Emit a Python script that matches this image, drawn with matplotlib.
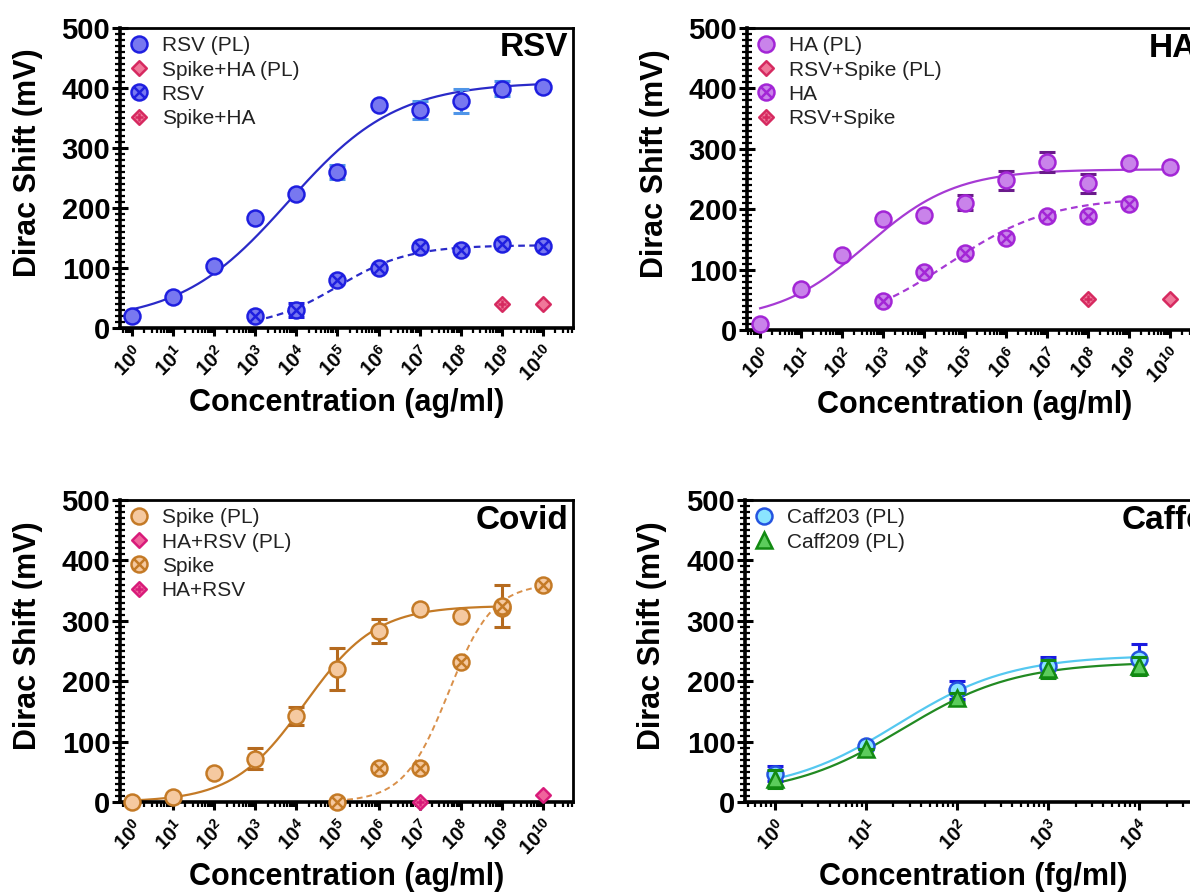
import numpy as np
import matplotlib
matplotlib.use('Agg')
import matplotlib.pyplot as plt
from matplotlib.path import Path
from matplotlib.ticker import FixedLocator, LogLocator, MultipleLocator, NullFormatter

plt.rcParams['font.family'] = ['Liberation Sans', 'DejaVu Sans']
plt.rcParams['mathtext.fontset'] = 'custom'
plt.rcParams['mathtext.rm'] = 'Liberation Sans'
plt.rcParams['mathtext.bf'] = 'Liberation Sans:bold'
plt.rcParams['mathtext.it'] = 'Liberation Sans:italic'

# ---------------- data (x given as log10 of concentration) ----------------
# RSV panel
rsv_pl_logc = [0, 1, 2, 3, 4, 5, 6, 7, 8, 9, 10]
rsv_pl_val = [20, 52, 103, 183, 223, 260, 372, 363, 378, 399, 402]
rsv_pl_err = [0, 0, 0, 0, 0, 12, 0, 15, 20, 12, 0]
rsv_logc = [3, 4, 5, 6, 7, 8, 9, 10]
rsv_val = [20, 30, 80, 100, 135, 130, 140, 137]
rsv_err = [0, 12, 0, 0, 0, 0, 0, 0]
spikeha_pl_logc = [10]
spikeha_pl_val = [40]
spikeha_logc = [9]
spikeha_val = [40]
rsv_pl_fit = [10, 410, 3.8, 0.33]      # bottom, top, logEC50, hill
rsv_fit = [0, 138, 5.0, 0.5]

# HA panel
ha_pl_logc = [0, 1, 2, 3, 4, 5, 6, 7, 8, 9, 10]
ha_pl_val = [10, 68, 125, 183, 190, 211, 248, 278, 243, 277, 270]
ha_pl_err = [0, 0, 0, 0, 0, 12, 16, 17, 16, 0, 0]
ha_logc = [3, 4, 5, 6, 7, 8, 9]
ha_val = [48, 96, 128, 153, 188, 188, 208]
rsvspike_pl_logc = [10]
rsvspike_pl_val = [52]
rsvspike_logc = [8]
rsvspike_val = [52]
ha_pl_fit = [15, 266, 2.6, 0.4]
ha_fit = [0, 220, 4.6, 0.35]

# Covid panel
spike_pl_logc = [0, 1, 2, 3, 4, 5, 6, 7, 8, 9]
spike_pl_val = [0, 8, 48, 72, 143, 220, 283, 320, 308, 322]
spike_pl_err = [0, 0, 0, 18, 15, 35, 20, 0, 0, 0]
spike_logc = [5, 6, 7, 8, 9, 10]
spike_val = [0, 57, 57, 232, 325, 360]
spike_err = [0, 0, 0, 0, 35, 0]
harsv_pl_logc = [10]
harsv_pl_val = [12]
harsv_logc = [7]
harsv_val = [0]
spike_pl_fit = [0, 325, 4.2, 0.5]
spike_fit = [0, 362, 7.7, 0.8]

# Caffeine panel (fg/ml)
caff_logc = [0, 1, 2, 3, 4]
caff203_val = [47, 93, 185, 225, 237]
caff203_err = [12, 0, 15, 15, 25]
caff209_val = [38, 87, 173, 220, 225]
caff209_err = [15, 0, 8, 15, 15]
caff203_fit = [15, 243, 1.35, 0.7]
caff209_fit = [10, 232, 1.4, 0.7]


# ---------------- helpers ----------------
def fourpl(logx, p):
    b, t, ec, h = p
    return b + (t - b) / (1.0 + 10.0 ** ((ec - logx) * h))


def crossed_circle():
    d = 0.68
    lines = Path([(-d, -d), (d, d), (-d, d), (d, -d)],
                 [Path.MOVETO, Path.LINETO, Path.MOVETO, Path.LINETO])
    return Path.make_compound_path(Path.unit_circle(), lines)


DIAMOND = Path([(0, 1), (1, 0), (0, -1), (-1, 0), (0, 1)],
               [Path.MOVETO, Path.LINETO, Path.LINETO, Path.LINETO, Path.CLOSEPOLY])


def crossed_diamond():
    d = 0.55
    lines = Path([(-d, 0), (d, 0), (0, -d), (0, d)],
                 [Path.MOVETO, Path.LINETO, Path.MOVETO, Path.LINETO])
    return Path.make_compound_path(DIAMOND, lines)


XCIRC = crossed_circle()
XDIAM = crossed_diamond()

FIG_W, FIG_H = 1190, 893
fig = plt.figure(figsize=(11.9, 8.93), dpi=100)


def px_axes(left, top, right, bottom):
    return fig.add_axes([left / FIG_W, 1 - bottom / FIG_H,
                         (right - left) / FIG_W, (bottom - top) / FIG_H])


def style(ax, xlim_log, decades, xlabel, title, title_x, title_ha='right'):
    ax.set_xscale('log')
    ax.set_xlim(10.0 ** xlim_log[0], 10.0 ** xlim_log[1])
    ax.set_ylim(0, 500)
    ax.yaxis.set_major_locator(MultipleLocator(100))
    ax.yaxis.set_minor_locator(MultipleLocator(10))
    ax.xaxis.set_major_locator(FixedLocator([10.0 ** k for k in decades]))
    ax.xaxis.set_minor_locator(LogLocator(base=10, subs=np.arange(2, 10), numticks=100))
    ax.xaxis.set_minor_formatter(NullFormatter())
    ax.set_xticklabels([r'$\mathbf{10^{%d}}$' % k for k in decades],
                       rotation=45, ha='right', rotation_mode='anchor', fontsize=14.5)
    for lab in ax.get_yticklabels():
        lab.set_fontweight('bold')
        lab.set_fontsize(21)
    ax.tick_params(axis='y', which='major', direction='inout', length=12, width=2.2, pad=1)
    ax.tick_params(axis='y', which='minor', direction='inout', length=7, width=1.6)
    ax.tick_params(axis='x', which='major', direction='out', length=6, width=2.2, pad=4)
    ax.tick_params(axis='x', which='minor', direction='out', length=3.5, width=1.6)
    for s in ax.spines.values():
        s.set_linewidth(2.0)
    ax.spines['left'].set_linewidth(2.6)
    ax.spines['bottom'].set_linewidth(2.6)
    ax.set_ylabel('Dirac Shift (mV)', fontsize=22, fontweight='bold')
    ax.set_xlabel(xlabel, fontsize=22, fontweight='bold')
    ax.yaxis.set_label_coords(-0.17, 0.55)
    ax.xaxis.set_label_coords(0.5, -0.2)
    ax.text(title_x, 0.985, title, transform=ax.transAxes, ha=title_ha, va='top',
            fontsize=24, fontweight='bold')


def points(ax, logc, val, err, marker, ms, fc, ec, errc, label, z=4):
    x = 10.0 ** np.asarray(logc, dtype=float)
    if err is not None:
        ax.errorbar(x, val, yerr=err, fmt='none', ecolor=errc, elinewidth=2.2,
                    capsize=6, capthick=2.2, zorder=z - 1, clip_on=False)
    h, = ax.plot(x, val, linestyle='none', marker=marker, markersize=ms,
                 markerfacecolor=fc, markeredgecolor=ec, markeredgewidth=1.8,
                 label=label, zorder=z, clip_on=False)
    return h


def curve(ax, lo, hi, p, color, ls='-', lw=1.6):
    lx = np.linspace(lo, hi, 300)
    ax.plot(10.0 ** lx, fourpl(lx, p), color=color, linestyle=ls, linewidth=lw, zorder=2)


def legend(ax, handles):
    ax.legend(handles=handles, loc='upper left', bbox_to_anchor=(0, 1), frameon=False,
              fontsize=15, handlelength=1.0, handletextpad=0.6, borderaxespad=0.4,
              borderpad=0.0, labelspacing=0.25, labelcolor='#222222')


ag_decades = list(range(0, 11))

# ---------------- RSV ----------------
ax1 = px_axes(120, 28, 573, 328)
blue_e, blue_f, blue_l = '#1f1fe0', '#7878f0', '#2a2ac8'
curve(ax1, 0, 10, rsv_pl_fit, blue_l)
curve(ax1, 3, 10, rsv_fit, blue_l, ls=(0, (3, 2)))
h1 = points(ax1, rsv_pl_logc, rsv_pl_val, rsv_pl_err, 'o', 11.5, blue_f, blue_e, '#4f95e8', 'RSV (PL)')
h3 = points(ax1, rsv_logc, rsv_val, rsv_err, XCIRC, 11.5, blue_f, blue_e, blue_e, 'RSV')
pink_e, pink_f = '#d62a60', '#f0789a'
h2 = points(ax1, spikeha_pl_logc, spikeha_pl_val, None, DIAMOND, 10.5, pink_f, pink_e, pink_e, 'Spike+HA (PL)')
h4 = points(ax1, spikeha_logc, spikeha_val, None, XDIAM, 10.5, pink_f, pink_e, pink_e, 'Spike+HA')
style(ax1, (-0.29, 10.73), ag_decades, 'Concentration (ag/ml)', 'RSV', 0.989)
legend(ax1, [h1, h2, h3, h4])

# ---------------- HA ----------------
ax2 = px_axes(747, 28, 1202, 330)
pur_e, pur_f, pur_l = '#a326d6', '#c983ea', '#a63ad4'
curve(ax2, 0, 10, ha_pl_fit, pur_l)
curve(ax2, 3, 9, ha_fit, pur_l, ls=(0, (3, 2)))
g1 = points(ax2, ha_pl_logc, ha_pl_val, ha_pl_err, 'o', 11.5, pur_f, pur_e, '#6a1a8a', 'HA (PL)')
g3 = points(ax2, ha_logc, ha_val, None, XCIRC, 11.5, pur_f, pur_e, pur_e, 'HA')
g2 = points(ax2, rsvspike_pl_logc, rsvspike_pl_val, None, DIAMOND, 10.5, pink_f, pink_e, pink_e, 'RSV+Spike (PL)')
g4 = points(ax2, rsvspike_logc, rsvspike_val, None, XDIAM, 10.5, pink_f, pink_e, pink_e, 'RSV+Spike')
style(ax2, (-0.32, 10.78), ag_decades, 'Concentration (ag/ml)', 'HA', 0.989)
legend(ax2, [g1, g2, g3, g4])

# ---------------- Covid ----------------
ax3 = px_axes(120, 500, 573, 802)
or_e, or_f, or_l, or_d = '#c47a26', '#f5c9a0', '#c47a26', '#d9904a'
curve(ax3, 0, 9, spike_pl_fit, or_l)
curve(ax3, 5, 10, spike_fit, or_d, ls=(0, (3, 2)), lw=1.4)
k1 = points(ax3, spike_pl_logc, spike_pl_val, spike_pl_err, 'o', 11.5, or_f, or_e, '#b56a1e', 'Spike (PL)')
k3 = points(ax3, spike_logc, spike_val, spike_err, XCIRC, 11.5, or_f, or_e, '#b56a1e', 'Spike')
mag_e, mag_f = '#d81b7a', '#f0649c'
k2 = points(ax3, harsv_pl_logc, harsv_pl_val, None, DIAMOND, 10.5, mag_f, mag_e, mag_e, 'HA+RSV (PL)')
k4 = points(ax3, harsv_logc, harsv_val, None, XDIAM, 10.5, mag_f, mag_e, mag_e, 'HA+RSV')
style(ax3, (-0.29, 10.73), ag_decades, 'Concentration (ag/ml)', 'Covid', 0.989)
legend(ax3, [k1, k2, k3, k4])

# ---------------- Caffeine ----------------
ax4 = px_axes(745, 500, 1202, 802)
curve(ax4, 0, 4, caff203_fit, '#55c8f0')
curve(ax4, 0, 4, caff209_fit, '#228a22')
c1 = points(ax4, caff_logc, caff203_val, caff203_err, 'o', 11.5, '#8ae4ff', '#2454e0', '#1a1ae0', 'Caff203 (PL)')
c2 = points(ax4, caff_logc, caff209_val, caff209_err, '^', 12, '#5ccc5c', '#128a12', '#128a12', 'Caff209 (PL)', z=5)
style(ax4, (-0.33, 4.69), [0, 1, 2, 3, 4], 'Concentration (fg/ml)', 'Caffeine',
      (1122 - 745) / (1202 - 745), title_ha='left')
legend(ax4, [c1, c2])

fig.savefig('out.png', dpi=100)
